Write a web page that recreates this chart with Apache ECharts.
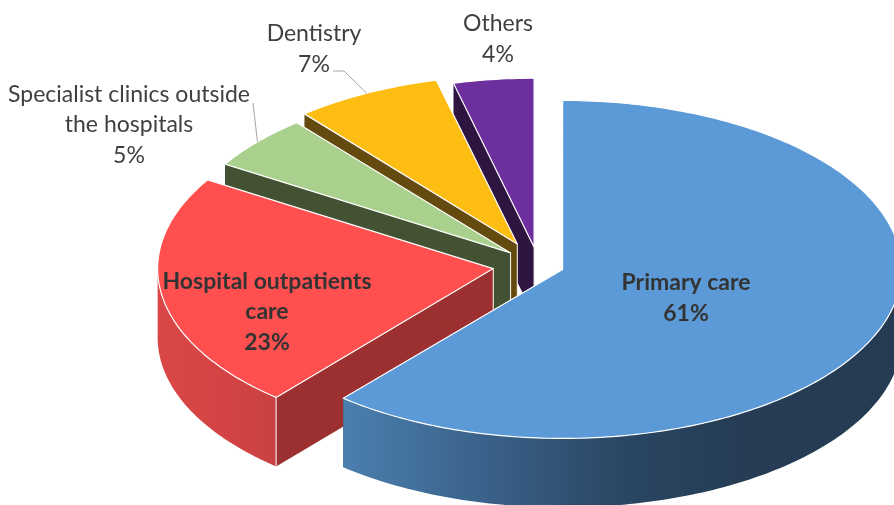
<!DOCTYPE html>
<html>
<head>
<meta charset="utf-8">
<style>
  html, body { margin: 0; padding: 0; background: #fff; }
  #chart { width: 894px; height: 505px; }
</style>
<script src="https://cdn.jsdelivr.net/npm/echarts@6/dist/echarts.min.js"></script>
</head>
<body>
<div id="chart"></div>
<script>
// back to front, the order the slices have to be painted in
const categories = ["Others", "Dentistry", "Specialist clinics outside\nthe hospitals", "Hospital outpatients\ncare", "Primary care"];
const shares = [3.9, 7.1, 5.2, 22.6, 61.2];
const topColors = ["#6d2e9e", "#fdbd13", "#a9d08c", "#ff4f4f", "#5b9ad6"];
const cutColors = ["#2e1541", "#654a10", "#435233", "#9c2f2f", "#2b4a6b"];
const wallStops = [
  [[0, "#3a1a55"], [1, "#3a1a55"]],
  [[0, "#7a5a10"], [1, "#7a5a10"]],
  [[0, "#4d6040"], [1, "#4d6040"]],
  [[0, "#d94646"], [0.5, "#d54444"], [1, "#c94141"]],
  [[0, "#4b7fae"], [0.22, "#3c658e"], [0.5, "#2a4663"], [0.7, "#263d55"], [1, "#253b52"]],
];
const explode = [36, 47, 37, 45.8, 25.7];
// slices further back come out a little narrower in the perspective
const widthScale = [0.98, 0.985, 0.99, 0.99, 1];
const labelBoxes = [
  { x: 498, y: 39, bold: false },
  { x: 314, y: 49, bold: false },
  { x: 129, y: 125, bold: false },
  { x: 267, y: 312, bold: true },
  { x: 686, y: 298, bold: true },
];
const leaderElbows = [null, [[333, 71], [344, 71]], [[253, 103]], null, null];

const cx = 538.5, cy = 265, rx = 339, ry = 169, depth = 69;
const total = shares.reduce((a, b) => a + b, 0);

// primary care starts at twelve o'clock and runs clockwise, so the others follow it
function sliceAngles(i) {
  let start = 0;
  for (let k = shares.length - 1; k > i; k--) start += shares[k] / total * 360;
  return [start, start + shares[i] / total * 360];
}

function arcPoints(apex, from, to, scale) {
  const pts = [];
  const steps = Math.max(2, Math.ceil(to - from));
  for (let s = 0; s <= steps; s++) {
    const a = (from + (to - from) * s / steps) * Math.PI / 180;
    pts.push([apex[0] + scale * rx * Math.sin(a), apex[1] - ry * Math.cos(a)]);
  }
  return pts;
}

const drop = (pts) => pts.map((p) => [p[0], p[1] + depth]).reverse();
const edgeLine = (p) => ({
  type: "polyline",
  shape: { points: [p, [p[0], p[1] + depth]] },
  style: { fill: null, stroke: "#fff", lineWidth: 1 },
});

function renderSlice(params, api) {
  const i = params.dataIndex;
  const [a0, a1] = sliceAngles(i);
  const midDeg = (a0 + a1) / 2;
  const mid = midDeg * Math.PI / 180;
  const scale = widthScale[i];
  const apex = [cx + explode[i] * Math.sin(mid), cy - explode[i] * (ry / rx) * Math.cos(mid)];
  const arc = arcPoints(apex, a0, a1, scale);
  const children = [];

  const cutWall = (p) => ({
    type: "polygon",
    shape: { points: [apex, p, [p[0], p[1] + depth], [apex[0], apex[1] + depth]] },
    style: { fill: cutColors[i] },
  });
  children.push(cutWall(arc[0]), cutWall(arc[arc.length - 1]), edgeLine(apex));

  // outer rim only shows on the front half of the ellipse
  const f0 = Math.max(a0, 90), f1 = Math.min(a1, 270);
  if (f1 > f0) {
    const front = arcPoints(apex, f0, f1, scale);
    children.push({
      type: "polygon",
      shape: { points: front.concat(drop(front)) },
      style: {
        fill: new echarts.graphic.LinearGradient(0, 0, 1, 0, wallStops[i].map((s) => ({ offset: s[0], color: s[1] }))),
      },
    });
    if (a0 > 90) children.push(edgeLine(arc[0]));
  }

  children.push({
    type: "polygon",
    shape: { points: [apex].concat(arc) },
    style: { fill: topColors[i], stroke: "#fff", lineWidth: 1.2, lineJoin: "round" },
  });

  if (leaderElbows[i]) {
    children.push({
      type: "polyline",
      shape: { points: leaderElbows[i].concat(arcPoints(apex, midDeg, midDeg, scale).slice(0, 1)) },
      style: { fill: null, stroke: "#a6a6a6", lineWidth: 1 },
    });
  }

  const box = labelBoxes[i];
  children.push({
    type: "text",
    z2: 50,
    style: {
      text: api.value(1) + "\n" + Math.round(api.value(0)) + "%",
      x: box.x,
      y: box.y,
      align: "center",
      verticalAlign: "middle",
      fill: box.bold ? "#333333" : "#404040",
      fontFamily: "Lato",
      fontWeight: box.bold ? "bold" : "normal",
      fontSize: 23,
      lineHeight: 30.5,
    },
  });

  return { type: "group", children };
}

const chart = echarts.init(document.getElementById("chart"), null, { renderer: "canvas" });

chart.setOption({
  animation: false,
  backgroundColor: "#ffffff",
  series: [
    {
      type: "custom",
      coordinateSystem: "none",
      renderItem: renderSlice,
      dimensions: ["share", { name: "category", type: "ordinal" }],
      data: shares.map((v, i) => [v, categories[i]]),
    },
  ],
});
</script>
</body>
</html>
